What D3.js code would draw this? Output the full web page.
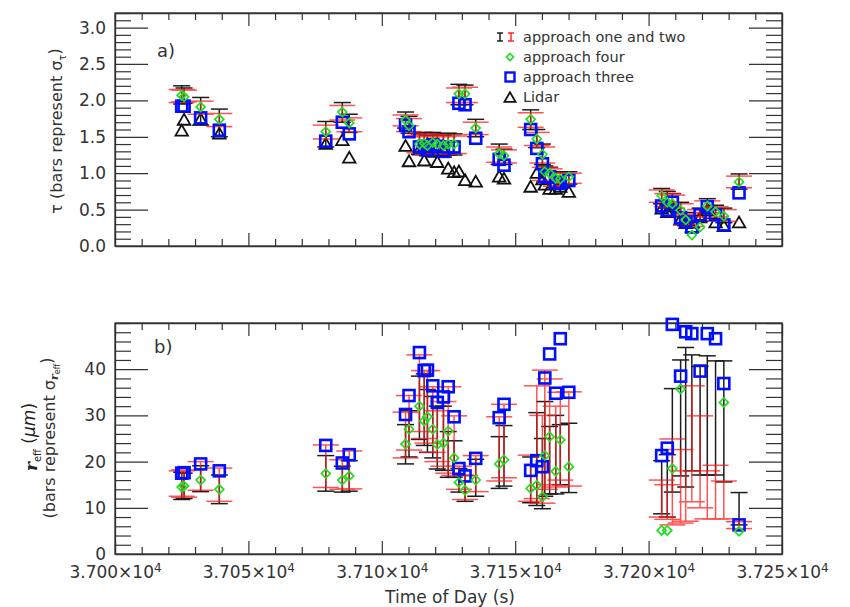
<!DOCTYPE html>
<html><head><meta charset="utf-8">
<script src="https://cdn.jsdelivr.net/npm/d3@7"></script>
<style>body{margin:0;background:#fff} text{font-family:"DejaVu Sans",sans-serif}</style>
</head><body><svg id="c" width="850" height="607"></svg>
<script>
// ---------------- data ----------------
const times = [37025.0,37025.9,37032.1,37039.1,37079.0,37085.2,37087.8,37108.9,37110.2,37114.1,
  37115.9,37117.1,37119.1,37120.8,37123.1,37124.9,37127.1,37128.9,37131.2,37135.2,
  37144.0,37145.8,37155.8,37158.1,37160.2,37161.1,37162.9,37165.2,37166.9,37170.1,
  37204.9,37207.0,37208.9,37212.0,37213.9,37216.2,37219.3,37222.0,37225.1,37228.2,37233.9];

// panel a) optical depth
const tauOne = [2.075,2.065,1.85,1.69,1.535,1.835,1.685,1.73,1.665,1.40,1.42,1.38,1.42,1.40,1.37,1.40,1.395,2.08,2.075,1.62,
  1.26,1.225,1.735,1.475,1.26,0.99,0.97,0.91,0.91,0.935,0.685,0.635,0.61,0.50,0.37,0.335,0.43,0.55,0.47,0.42,0.885];
const tauOneErr = [0.125,0.105,0.19,0.19,0.175,0.135,0.125,0.11,0.115,0.14,0.14,0.14,0.14,0.14,0.15,0.15,0.145,0.14,0.135,0.12,
  0.14,0.105,0.135,0.125,0.14,0.11,0.11,0.11,0.11,0.085,0.105,0.115,0.11,0.10,0.09,0.085,0.09,0.10,0.09,0.10,0.105];
const tauTwo = [2.06,2.06,1.90,1.73,1.565,1.83,1.665,1.725,1.66,1.40,1.42,1.38,1.41,1.40,1.38,1.40,1.39,2.07,2.075,1.615,
  1.255,1.23,1.73,1.47,1.25,0.99,0.97,0.91,0.915,0.93,0.685,0.63,0.61,0.50,0.37,0.335,0.425,0.54,0.47,0.42,0.88];
const tauTwoErr = [0.09,0.08,0.09,0.09,0.095,0.10,0.095,0.075,0.09,0.12,0.12,0.12,0.12,0.12,0.12,0.12,0.12,0.10,0.105,0.085,
  0.105,0.09,0.10,0.09,0.11,0.09,0.09,0.09,0.085,0.07,0.085,0.09,0.09,0.08,0.07,0.065,0.075,0.08,0.07,0.08,0.08];
const tauFour = [2.07,2.05,1.91,1.74,1.57,1.84,1.69,1.73,1.65,1.40,1.41,1.38,1.42,1.40,1.38,1.40,1.40,2.09,2.09,1.62,
  1.27,1.24,1.74,1.47,1.26,1.02,1.00,0.93,0.92,0.95,0.69,0.60,0.58,0.49,0.36,0.15,0.26,0.55,0.47,0.41,0.88];
const tauThree = [1.92,1.92,1.76,1.59,1.44,1.70,1.54,1.66,1.57,1.36,1.37,1.32,1.39,1.37,1.30,1.36,1.36,1.96,1.94,1.48,
  1.19,1.11,1.60,1.34,1.13,0.95,0.95,0.87,0.86,0.90,0.55,0.49,0.60,0.39,0.33,0.26,0.43,0.54,0.43,0.29,0.73];
const tauLidar = [1.59,1.74,1.75,1.55,1.41,1.46,1.22,1.38,1.17,1.33,1.18,1.35,1.30,1.16,1.32,1.07,1.02,1.03,0.91,0.89,
  0.96,0.93,0.82,1.01,0.92,0.85,0.79,0.79,0.82,0.75,0.52,0.47,0.55,0.37,0.32,0.27,0.40,0.50,0.33,0.28,0.33];

// panel b) effective radius
const reffOne = [14.75,14.75,16.3,14.0,17.45,16.2,16.9,23.75,26.0,31.65,31.25,28.8,27.45,25.2,25.05,21.55,20.55,15.95,14.2,16.5,
  19.8,21.25,16.05,20.55,17.4,22.75,20.3,21.5,21.5,20.8,14.45,14.75,24.6,29.45,29.6,30.55,28.85,30.0,29.45,28.7,9.8];
const reffOneErr = [2.95,2.75,2.8,3.1,3.85,2.8,3.3,4.25,5.0,6.85,7.75,6.8,6.65,6.8,6.95,4.95,3.95,2.55,2.8,4.0,
  5.6,6.55,4.95,10.05,7.6,10.25,7.3,8.5,6.5,7.5,5.75,6.75,11.2,12.55,15.1,12.55,11.75,12.9,12.35,13.1,3.5];
const reffTwo = [15.25,15.25,16.9,15.0,19.0,17.2,18.2,25.75,28.4,34.8,32.35,31.85,29.1,25.5,26.0,26.85,23.45,16.5,14.4,17.4,
  22.75,24.45,16.4,24.2,20.5,26.9,26.45,23.25,25.5,24.9,12.0,11.25,15.6,14.65,12.55,23.85,19.95,12.8,13.4,11.7,6.25];
const reffTwoErr = [2.75,2.95,3.1,3.6,4.6,3.2,4.1,4.95,5.9,8.3,7.35,7.85,7.1,5.5,7.0,9.35,6.45,2.5,2.6,3.9,
  6.95,7.95,5.0,12.2,9.5,12.9,11.45,8.75,9.5,10.2,4.0,3.75,9.3,7.95,5.45,12.55,9.95,5.2,5.8,4.1,0.75];
const reffFour = [14.5,14.7,16.0,14.0,17.4,16.0,16.9,23.8,27.0,32.0,28.8,29.7,27.0,23.7,24.0,26.6,20.8,15.5,13.8,16.0,
  19.5,20.4,14.2,14.9,12.4,21.3,25.4,17.9,24.7,18.9,5.1,5.1,18.5,35.7,null,null,null,null,null,32.8,4.9];
const reffThree = [17.5,17.6,19.5,18.0,23.5,19.7,21.5,30.2,34.3,43.6,39.7,39.8,36.4,32.8,34.0,36.2,29.7,18.5,16.9,20.7,
  29.5,32.4,18.1,20.2,18.9,38.1,43.3,34.8,46.6,35.0,21.3,22.9,49.7,38.5,48.1,47.7,39.6,47.7,46.6,36.9,6.3];

const xMajorTicks = [37000,37050,37100,37150,37200,37250];
const tauTicks = [0,0.5,1.0,1.5,2.0,2.5,3.0];
const reffTicks = [0,10,20,30,40];
const legendLabels = ["approach one and two","approach four","approach three","Lidar"];

// ---------------- drawing ----------------
const svg = d3.select("#c");
svg.append("rect").attr("width",850).attr("height",607).attr("fill","#fff");

const X0 = 115, X1 = 782;
const x = d3.scaleLinear().domain([37000,37250]).range([X0,X1]);
const yA = d3.scaleLinear().domain([0,3.2]).range([246,13]);
const yB = d3.scaleLinear().domain([0,50]).range([554,323]);

const AX = "#333", BLACK = "#111", RED = "#ff1a1a", GREEN = "#22dd22", BLUE = "#0010ff";

function styleAxis(g){
  g.selectAll("path.domain").attr("stroke",AX).attr("stroke-width",1.3);
  g.selectAll(".tick line").attr("stroke",AX).attr("stroke-width",1.2);
  g.selectAll("text").attr("fill","#333").style("font-family","DejaVu Sans").style("font-size","17px");
}

function frame(y, yMajor, yMinorStep, yTop, showX){
  const r0 = y.range()[0], r1 = y.range()[1];
  const xMinor = d3.range(37000,37250.001,10).filter(v=>Math.abs(v%50)>1e-6);
  const dom = y.domain();
  const yMinor = d3.range(dom[0],dom[1]+1e-9,yMinorStep).filter(v=>!yMajor.some(m=>Math.abs(m-v)<1e-6));
  const gm = svg.append("g");
  gm.append("g").attr("transform",`translate(0,${r0})`).call(d3.axisBottom(x).tickValues(xMinor).tickSize(-7).tickFormat(""));
  gm.append("g").attr("transform",`translate(0,${r1})`).call(d3.axisTop(x).tickValues(xMinor).tickSize(-7).tickFormat(""));
  gm.append("g").attr("transform",`translate(${X0},0)`).call(d3.axisLeft(y).tickValues(yMinor).tickSize(-16).tickFormat(""));
  gm.append("g").attr("transform",`translate(${X1},0)`).call(d3.axisRight(y).tickValues(yMinor).tickSize(-16).tickFormat(""));
  gm.selectAll("path.domain").remove();
  styleAxis(gm);
  const g = svg.append("g");
  const bx = g.append("g").attr("transform",`translate(0,${r0})`)
    .call(d3.axisBottom(x).tickValues(xMajorTicks).tickSizeInner(-13).tickSizeOuter(0).tickPadding(12)
      .tickFormat(showX ? (d=>d) : ""));
  g.append("g").attr("transform",`translate(0,${r1})`)
    .call(d3.axisTop(x).tickValues(xMajorTicks).tickSizeInner(-13).tickSizeOuter(0).tickFormat(""));
  g.append("g").attr("transform",`translate(${X0},0)`)
    .call(d3.axisLeft(y).tickValues(yMajor).tickSizeInner(-33).tickSizeOuter(0).tickPadding(9).tickFormat(yTop));
  g.append("g").attr("transform",`translate(${X1},0)`)
    .call(d3.axisRight(y).tickValues(yMajor).tickSizeInner(-33).tickSizeOuter(0).tickFormat(""));
  styleAxis(g);
  g.append("rect").attr("x",X0).attr("y",r1).attr("width",X1-X0).attr("height",r0-r1)
    .attr("fill","none").attr("stroke",AX).attr("stroke-width",1.3);
  if(showX){
    bx.selectAll("text").each(function(d){
      const t = d3.select(this); t.text(null);
      t.append("tspan").text((d/1e4).toFixed(3)+"×10");
      t.append("tspan").attr("dy","-0.5em").style("font-size","12px").text("4");
    });
  }
}

frame(yA, tauTicks, 0.1, d=>d.toFixed(1), false);
frame(yB, reffTicks, 2, d=>d, true);

function errBars(g, y, cen, err, color, half, op){
  times.forEach((t,i)=>{
    if(cen[i]==null) return;
    const cx = x(t), lo = y(cen[i]-err[i]), hi = y(cen[i]+err[i]);
    g.append("line").attr("x1",cx).attr("x2",cx).attr("y1",lo).attr("y2",hi);
    g.append("line").attr("x1",cx-half).attr("x2",cx+half).attr("y1",lo).attr("y2",lo);
    g.append("line").attr("x1",cx-half).attr("x2",cx+half).attr("y1",hi).attr("y2",hi);
  });
  g.attr("stroke",color).attr("stroke-width",1.5).attr("opacity",op);
}
function tri(cx,cy,s){ const h=s*0.87; return `M${cx-s/2},${cy+h/2}L${cx},${cy-h/2}L${cx+s/2},${cy+h/2}Z`; }
function dia(cx,cy,s){ return `M${cx},${cy-s/2}L${cx+s/2},${cy}L${cx},${cy+s/2}L${cx-s/2},${cy}Z`; }

function panel(y, one, oneErr, two, twoErr, four, three, lidar){
  if(lidar){
    const gl = svg.append("g");
    times.forEach((t,i)=>{ gl.append("path").attr("d",tri(x(t),y(lidar[i]),12.5))
      .attr("fill","none").attr("stroke",BLACK).attr("stroke-width",1.8); });
  }
  errBars(svg.append("g"), y, one, oneErr, BLACK, 8.5, 0.95);
  errBars(svg.append("g"), y, two, twoErr, RED, 13, 0.75);
  const gs = svg.append("g");
  times.forEach((t,i)=>{ if(three[i]==null) return; gs.append("rect")
    .attr("x",x(t)-5.5).attr("y",y(three[i])-5.5).attr("width",11).attr("height",11)
    .attr("fill","none").attr("stroke",BLUE).attr("stroke-width",2.6); });
  const gd = svg.append("g");
  times.forEach((t,i)=>{ if(four[i]==null) return; gd.append("path").attr("d",dia(x(t),y(four[i]),9))
    .attr("fill","none").attr("stroke",GREEN).attr("stroke-width",1.7); });
}
panel(yA, tauOne, tauOneErr, tauTwo, tauTwoErr, tauFour, tauThree, tauLidar);
panel(yB, reffOne, reffOneErr, reffTwo, reffTwoErr, reffFour, reffThree, null);

svg.append("text").attr("x",157).attr("y",57).attr("fill","#333").style("font-size","18px").text("a)");
svg.append("text").attr("x",154).attr("y",353).attr("fill","#333").style("font-size","18px").text("b)");

const ta = svg.append("text").attr("transform","translate(62,131) rotate(-90)").attr("text-anchor","middle")
  .attr("fill","#333").style("font-size","16px");
ta.append("tspan").text("τ (bars represent σ");
ta.append("tspan").attr("dy","0.35em").style("font-size","10px").text("τ");
ta.append("tspan").attr("dy","-0.35em").text(")");

const tb1 = svg.append("text").attr("transform","translate(37,437) rotate(-90)").attr("text-anchor","middle")
  .attr("fill","#222").style("font-size","17px");
tb1.append("tspan").style("font-weight","bold").style("font-style","italic").style("font-family","DejaVu Serif").text("r");
tb1.append("tspan").attr("dy","0.35em").style("font-size","10px").text("eff");
tb1.append("tspan").attr("dy","-0.35em").text(" (");
tb1.append("tspan").style("font-style","italic").text("μm");
tb1.append("tspan").text(")");

const tb2 = svg.append("text").attr("transform","translate(55,438) rotate(-90)").attr("text-anchor","middle")
  .attr("fill","#333").style("font-size","16px");
tb2.append("tspan").text("(bars represent σ");
tb2.append("tspan").attr("dy","0.3em").style("font-size","11px").style("font-weight","bold").style("font-style","italic").style("font-family","DejaVu Serif").text("r");
tb2.append("tspan").attr("dy","0.25em").style("font-size","8px").text("eff");
tb2.append("tspan").attr("dy","-0.55em").text(")");

svg.append("text").attr("x",450).attr("y",603).attr("text-anchor","middle").attr("fill","#333")
  .style("font-size","17px").text("Time of Day (s)");

const lg = svg.append("g");
const lx = 523, ly = [37,57,77,97];
lg.selectAll("text").data(legendLabels).join("text").attr("x",lx).attr("y",(d,i)=>ly[i])
  .attr("dy","0.35em").attr("fill","#333").style("font-size","14.5px").text(d=>d);
function legI(cx,cy,color){
  const g = lg.append("g").attr("stroke",color).attr("stroke-width",1.4);
  g.append("line").attr("x1",cx).attr("x2",cx).attr("y1",cy-4).attr("y2",cy+4);
  g.append("line").attr("x1",cx-3).attr("x2",cx+3).attr("y1",cy-4).attr("y2",cy-4);
  g.append("line").attr("x1",cx-3).attr("x2",cx+3).attr("y1",cy+4).attr("y2",cy+4);
}
legI(500,ly[0],BLACK); legI(511,ly[0],RED);
lg.append("path").attr("d",dia(510,ly[1],7)).attr("fill","none").attr("stroke",GREEN).attr("stroke-width",1.6);
lg.append("rect").attr("x",505.5).attr("y",ly[2]-4.5).attr("width",9).attr("height",9).attr("fill","none").attr("stroke",BLUE).attr("stroke-width",2.4);
lg.append("path").attr("d",tri(510,ly[3],11)).attr("fill","none").attr("stroke",BLACK).attr("stroke-width",1.8);
</script></body></html>
